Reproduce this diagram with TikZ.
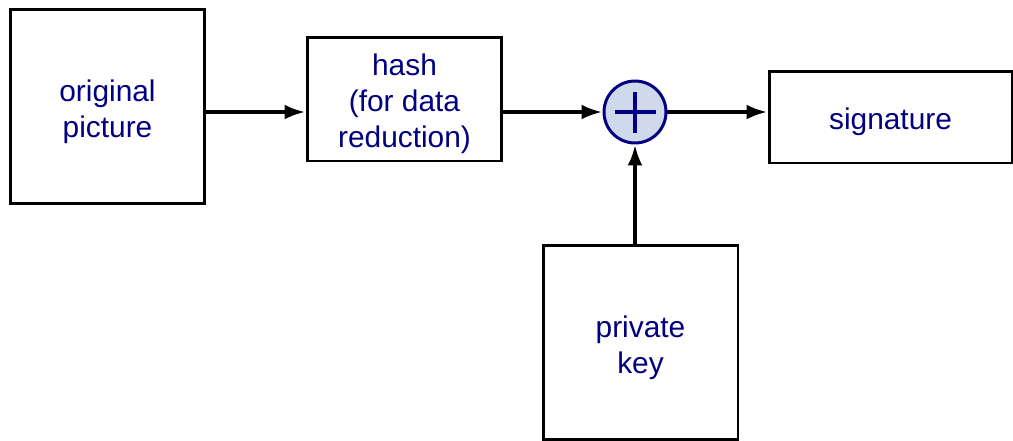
\documentclass[tikz,border=0pt]{standalone}
\usepackage{fontspec}
\setmainfont{Liberation Sans}
\usepackage{tikz}
\usetikzlibrary{arrows.meta}
\definecolor{txtblue}{RGB}{0,0,128}
\definecolor{sumfill}{RGB}{208,216,236}
\newcommand{\toppad}{\rule{0pt}{18pt}}
\tikzset{
  blockbox/.style={draw, line width=1.7pt, fill=white, align=center, text=txtblue,
    font=\fontsize{17}{20.5}\selectfont, inner sep=0pt},
  sumnode/.style={circle, draw=txtblue, line width=1.7pt, fill=sumfill,
    minimum size=1.24cm, inner sep=0pt,
    path picture={\draw[txtblue, line width=2.1pt]
      ([xshift=-0.41cm]path picture bounding box.center) -- ([xshift=0.41cm]path picture bounding box.center)
      ([yshift=-0.41cm]path picture bounding box.center) -- ([yshift=0.41cm]path picture bounding box.center);}},
  flow/.style={line width=2.3pt, -{Latex[length=0.42cm, width=0.3cm]}}
}
\begin{document}
\begin{tikzpicture}[x=0.02cm, y=-0.02cm]
  \useasboundingbox (0,0) rectangle (1013,440);
  \node[blockbox, minimum width=3.9cm, minimum height=3.9cm] (orig) at (107.5,106.5) {\toppad original\\picture};
  \node[blockbox, minimum width=3.9cm, minimum height=2.48cm] (hash) at (404.5,99) {\toppad hash\\(for data\\reduction)};
  \node[sumnode] (sum) at (635,112) {};
  \node[blockbox, minimum width=4.86cm, minimum height=1.84cm] (sig) at (890.5,117) {\toppad signature};
  \node[blockbox, minimum width=3.9cm, minimum height=3.9cm] (key) at (640.5,342.5) {\toppad private\\key};
  % connections
  \draw[flow] (orig.east |- sum) -- (hash.west |- sum);
  \draw[flow] (hash.east |- sum) -- (sum.west);
  \draw[flow] (sum.east) -- (sig.west |- sum);
  \draw[flow] (key.north -| sum) -- (sum.south);
\end{tikzpicture}
\end{document}
